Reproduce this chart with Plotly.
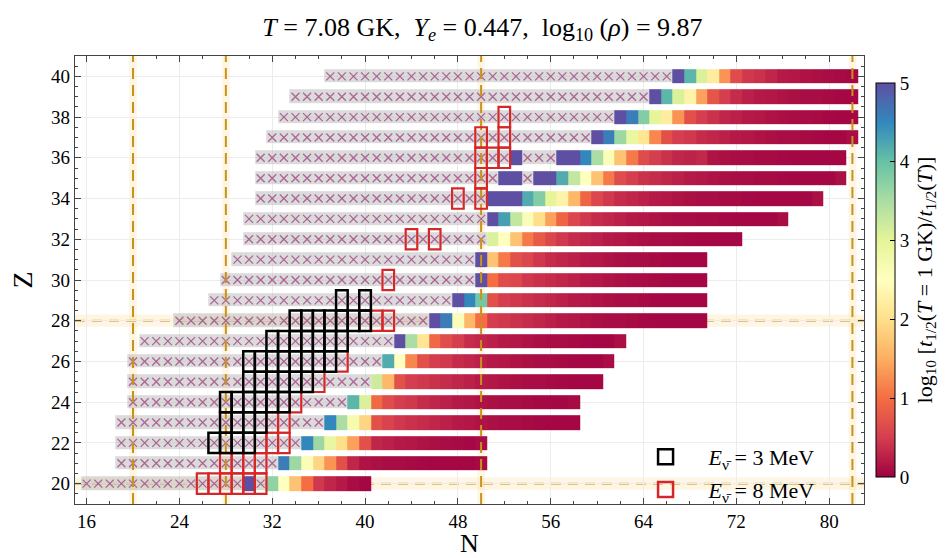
import numpy as np
import plotly.graph_objects as go

# ---------------- data ----------------
Z_ROWS = list(range(20, 41))
ROW_N_MIN = [16, 19, 19, 19, 20, 20, 20, 21, 24, 27, 28, 29, 30, 30, 31, 31, 31, 32, 33, 34, 37]
COLOR_START = [30, 33, 35, 37, 39, 41, 42, 43, 46, 48, 50, 50, 51, 51, 51, 52, 53, 60, 62, 65, 67]
COLOR_VALUES = [
    [5.0, None, 3.7, 2.5, 1.7, 1.0, 0.45, 0.3, 0.2, 0.1, 0.05],
    [4.6, 3.6, 2.6, 1.9, 1.3, 0.7, 0.3, 0.15, 0.12, 0.1, 0.1, 0.08, 0.06, 0.05, 0.05, 0.05, 0.05, 0.08],
    [4.5, 3.6, 2.9, 2.0, 1.4, 0.7, 0.3, 0.25, 0.2, 0.18, 0.15, 0.12, 0.1, 0.08, 0.06, 0.1],
    [4.5, 3.5, 2.7, 1.9, 0.7, 0.55, 0.45, 0.4, 0.35, 0.3, 0.25, 0.2, 0.18, 0.15, 0.12, 0.1, 0.1, 0.08, 0.06, 0.05, 0.05, 0.05],
    [4.1, 3.1, 0.95, 0.65, 0.5, 0.45, 0.35, 0.3, 0.25, 0.2, 0.18, 0.15, 0.12, 0.1, 0.1, 0.08, 0.06, 0.05, 0.05, 0.08],
    [3.2, 1.6, 0.7, 0.5, 0.45, 0.4, 0.35, 0.3, 0.25, 0.2, 0.18, 0.15, 0.12, 0.1, 0.1, 0.08, 0.06, 0.05, 0.05, 0.05],
    [4.2, 2.5, 1.2, 0.7, 0.5, 0.45, 0.35, 0.3, 0.25, 0.2, 0.18, 0.15, 0.12, 0.1, 0.1, 0.08, 0.06, 0.05, 0.05, 0.1],
    [5.0, 3.5, 2.1, 0.95, 0.65, 0.5, 0.35, 0.3, 0.25, 0.2, 0.18, 0.15, 0.12, 0.1, 0.1, 0.08, 0.06, 0.05, 0.05, 0.12],
    [5.0, 4.6, 2.6, 1.6, 1.0, 0.5, 0.45, 0.4, 0.35, 0.3, 0.25, 0.2, 0.18, 0.15, 0.12, 0.1, 0.1, 0.08, 0.06, 0.05, 0.05, 0.05, 0.05, 0.05],
    [5.0, 4.5, 3.9, 0.7, 0.5, 0.45, 0.4, 0.35, 0.3, 0.25, 0.2, 0.18, 0.15, 0.12, 0.1, 0.1, 0.08, 0.06, 0.05, 0.05, 0.05, 0.05],
    [5.0, 1.0, 0.65, 0.6, 0.45, 0.4, 0.35, 0.3, 0.25, 0.2, 0.18, 0.15, 0.12, 0.1, 0.1, 0.08, 0.06, 0.05, 0.05, 0.05],
    [5.0, 1.7, 1.1, 0.7, 0.6, 0.45, 0.35, 0.3, 0.25, 0.2, 0.18, 0.15, 0.12, 0.1, 0.1, 0.08, 0.06, 0.05, 0.05, 0.05],
    [3.1, 2.5, 1.7, 1.1, 0.8, 0.6, 0.45, 0.35, 0.3, 0.25, 0.2, 0.18, 0.15, 0.12, 0.1, 0.1, 0.08, 0.06, 0.05, 0.05, 0.05, 0.05],
    [5.0, 4.3, 3.3, 2.6, 2.0, 1.4, 0.9, 0.6, 0.45, 0.35, 0.3, 0.25, 0.2, 0.18, 0.15, 0.12, 0.1, 0.1, 0.08, 0.08, 0.06, 0.05, 0.05, 0.05, 0.05, 0.1],
    [5.0, 5.0, 5.0, 4.2, 3.8, 3.0, 2.3, 1.6, 0.9, 0.6, 0.45, 0.35, 0.3, 0.25, 0.2, 0.18, 0.15, 0.12, 0.1, 0.1, 0.08, 0.08, 0.06, 0.05, 0.05, 0.05, 0.05, 0.05, 0.12],
    [5.0, 5.0, None, 5.0, 5.0, 4.2, 3.3, 2.5, 1.7, 1.1, 0.65, 0.5, 0.4, 0.35, 0.3, 0.25, 0.2, 0.18, 0.15, 0.12, 0.1, 0.1, 0.08, 0.08, 0.06, 0.05, 0.05, 0.05, 0.05, 0.12],
    [5.0, None, None, None, 5.0, 5.0, 4.5, 3.5, 2.6, 1.7, 1.1, 0.65, 0.5, 0.4, 0.3, 0.28, 0.32, 0.15, 0.12, 0.1, 0.1, 0.08, 0.08, 0.06, 0.05, 0.05, 0.05, 0.05, 0.05],
    [5.0, 4.6, 3.6, 2.9, 2.1, 1.2, 0.7, 0.5, 0.45, 0.35, 0.3, 0.25, 0.2, 0.18, 0.15, 0.12, 0.1, 0.1, 0.08, 0.06, 0.05, 0.05, 0.1],
    [5.0, 4.6, 3.8, 3.0, 2.2, 1.3, 0.7, 0.5, 0.4, 0.3, 0.25, 0.2, 0.18, 0.15, 0.12, 0.1, 0.1, 0.08, 0.06, 0.05, 0.05],
    [5.0, 4.1, 3.1, 2.3, 1.4, 0.75, 0.5, 0.35, 0.25, 0.2, 0.18, 0.15, 0.12, 0.1, 0.1, 0.08, 0.06, 0.05],
    [5.0, 4.1, 3.1, 2.2, 1.3, 0.65, 0.45, 0.4, 0.3, 0.2, 0.18, 0.15, 0.12, 0.1, 0.08, 0.06],
]
BLACK_BOXES_N = [38, 40, 34, 35, 36, 37, 38, 39, 40, 32, 33, 34, 35, 36, 37, 38,
                 30, 31, 32, 33, 34, 35, 36, 37, 30, 31, 32, 33, 34, 35,
                 28, 29, 30, 31, 32, 33, 28, 29, 30, 31, 27, 28, 29, 30]
BLACK_BOXES_Z = [29, 29, 28, 28, 28, 28, 28, 28, 28, 27, 27, 27, 27, 27, 27, 27,
                 26, 26, 26, 26, 26, 26, 26, 26, 25, 25, 25, 25, 25, 25,
                 24, 24, 24, 24, 24, 24, 23, 23, 23, 23, 22, 22, 22, 22]
RED_BOXES_N = [52, 50, 52, 50, 51, 52, 50, 48, 50, 44, 46, 42, 41, 42, 38, 36, 34,
               32, 33, 31, 32, 33, 28, 29, 30, 31, 26, 27, 28, 29, 30, 31]
RED_BOXES_Z = [38, 37, 37, 36, 36, 36, 35, 34, 34, 32, 32, 30, 28, 28, 26, 25, 24,
               23, 23, 22, 22, 22, 21, 21, 21, 21, 20, 20, 20, 20, 20, 20]
MAGIC_N = [20, 28, 50, 82]
MAGIC_Z = [20, 28]
X_TICKS = [16, 24, 32, 40, 48, 56, 64, 72, 80]
Y_TICKS = [20, 22, 24, 26, 28, 30, 32, 34, 36, 38, 40]
CBAR_TICKS = [0, 1, 2, 3, 4, 5]

# ---------------- build grids ----------------
N_AXIS = list(range(15, 84))
zc = np.full((len(Z_ROWS), len(N_AXIS)), np.nan)
zg = np.full((len(Z_ROWS), len(N_AXIS)), np.nan)
gx, gy = [], []
for i, Z in enumerate(Z_ROWS):
    vals = COLOR_VALUES[i]
    start = COLOR_START[i]
    nmax = start + len(vals) - 1
    for n in range(ROW_N_MIN[i], nmax + 1):
        j = n - N_AXIS[0]
        k = n - start
        if k >= 0 and vals[k] is not None:
            zc[i, j] = vals[k]
        else:
            zg[i, j] = 1.0
            gx.append(n)
            gy.append(Z)

SPECTRAL = ['#9e0142', '#d53e4f', '#f46d43', '#fdae61', '#fee08b', '#ffffbf',
            '#e6f598', '#abdda4', '#66c2a5', '#3288bd', '#5e4fa2']
cscale = [[i / 10, c] for i, c in enumerate(SPECTRAL)]

FONT = "Liberation Serif"
fig = go.Figure()

fig.add_trace(go.Heatmap(
    x=N_AXIS, y=Z_ROWS, z=zg, colorscale=[[0, 'rgba(190,190,190,0.55)'], [1, 'rgba(190,190,190,0.55)']],
    showscale=False, ygap=7, hoverinfo='skip', zmin=0, zmax=2))

fig.add_trace(go.Heatmap(
    x=N_AXIS, y=Z_ROWS, z=zc, colorscale=cscale, zmin=0, zmax=5, ygap=6, hoverinfo='skip',
    colorbar=dict(
        x=1.0152, xanchor='left', xref='paper', y=0.5, yanchor='middle', len=0.88, thickness=19,
        outlinewidth=1, outlinecolor='black', tickvals=CBAR_TICKS, ticks='inside', ticklen=5,
        tickcolor='black', tickfont=dict(family=FONT, size=19, color='black'), xpad=0, ypad=0,
        title=dict(text="log<sub>10</sub> [<i>t</i><sub>1/2</sub>(<i>T</i> = 1 GK)/<i>t</i><sub>1/2</sub>(<i>T</i>)]",
                   side='right', font=dict(family=FONT, size=22, color='black')),
    )))

fig.add_trace(go.Scatter(
    x=gx, y=gy, mode='markers', hoverinfo='skip', showlegend=False,
    marker=dict(symbol='x-thin', size=8, line=dict(width=1.3, color='rgba(160,70,130,0.8)'))))

# legend entries
fig.add_trace(go.Scatter(
    x=[None], y=[None], mode='markers', name="<i>E</i><sub>ν̄</sub> = 3 MeV", legendgroup='a',
    marker=dict(symbol='square-open', size=15, color='black', line=dict(width=2.5, color='black'))))
fig.add_trace(go.Scatter(
    x=[None], y=[None], mode='markers', name="<i>E</i><sub>ν̄</sub> = 8 MeV", legendgroup='b',
    marker=dict(symbol='square-open', size=15, color='#d62728', line=dict(width=2.5, color='#d62728'))))

shapes = []
band = 'rgba(250,220,140,0.25)'
for n in MAGIC_N:
    shapes.append(dict(type='rect', xref='x', yref='paper', x0=n - 0.33, x1=n + 0.33, y0=0, y1=1,
                       fillcolor=band, line=dict(width=0), layer='below'))
for z in MAGIC_Z:
    shapes.append(dict(type='rect', xref='paper', yref='y', x0=0, x1=1, y0=z - 0.3, y1=z + 0.3,
                       fillcolor=band, line=dict(width=0), layer='below'))
    shapes.append(dict(type='line', xref='paper', yref='y', x0=0, x1=1, y0=z, y1=z,
                       line=dict(color='rgba(205,160,60,0.8)', width=2, dash='10px,7px'), layer='below'))
for n in MAGIC_N:
    shapes.append(dict(type='line', xref='x', yref='paper', x0=n, x1=n, y0=0, y1=1,
                       line=dict(color='#c8921f', width=2, dash='11px,6px'), layer='above'))
for n, z in zip(RED_BOXES_N, RED_BOXES_Z):
    shapes.append(dict(type='rect', xref='x', yref='y', x0=n - 0.5, x1=n + 0.5, y0=z - 0.5, y1=z + 0.5,
                       line=dict(color='#d62728', width=2.2), fillcolor='rgba(0,0,0,0)', layer='above'))
for n, z in zip(BLACK_BOXES_N, BLACK_BOXES_Z):
    shapes.append(dict(type='rect', xref='x', yref='y', x0=n - 0.5, x1=n + 0.5, y0=z - 0.5, y1=z + 0.5,
                       line=dict(color='black', width=2.5), fillcolor='rgba(0,0,0,0)', layer='above'))

axis_common = dict(showline=True, linecolor='#444', linewidth=1.3, mirror='ticks', ticks='inside',
                   ticklen=6, tickcolor='#444', tickwidth=1, showgrid=True, gridcolor='#ececec',
                   gridwidth=1, zeroline=False, tickfont=dict(family=FONT, size=19, color='black'))

fig.update_layout(
    width=946, height=558, margin=dict(l=75, r=82, t=56, b=54, autoexpand=False),
    paper_bgcolor='white', plot_bgcolor='white', shapes=shapes,
    title=dict(text="<i>T</i> = 7.08 GK,  <i>Y</i><sub><i>e</i></sub> = 0.447,  log<sub>10</sub> (<i>ρ</i>) = 9.87",
               x=0.51, xanchor='center', y=0.952, yanchor='middle', font=dict(family=FONT, size=26, color='black')),
    xaxis=dict(range=[15, 83], tickvals=X_TICKS,
               title=dict(text='N', font=dict(family=FONT, size=26, color='black'), standoff=5),
               minor=dict(dtick=2, tick0=16, ticks='inside', ticklen=3, tickcolor='#444', showgrid=False),
               **axis_common),
    yaxis=dict(range=[19, 41], tickvals=Y_TICKS,
               title=dict(text='Z', font=dict(family=FONT, size=28, color='black'), standoff=10),
               minor=dict(dtick=0.5, tick0=20, ticks='inside', ticklen=3, tickcolor='#444', showgrid=False),
               **axis_common),
    legend=dict(x=0.694, y=0.068, xanchor='left', yanchor='middle', bgcolor='rgba(0,0,0,0)',
                font=dict(family=FONT, size=22, color='black'), itemwidth=76, tracegroupgap=1,
                traceorder='grouped'),
)

fig.write_html("out.html")
